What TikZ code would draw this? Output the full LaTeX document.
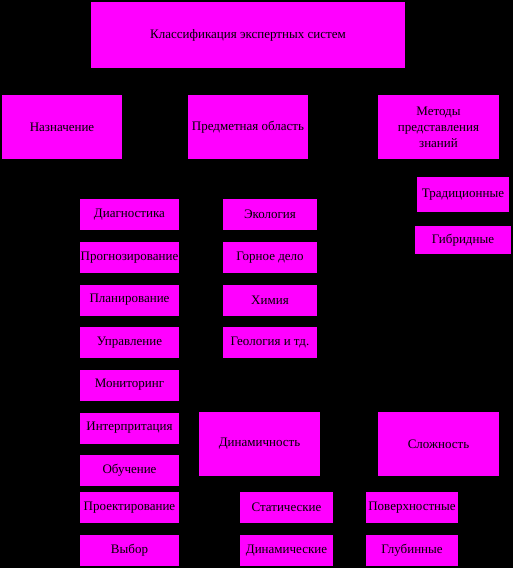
\documentclass[tikz,border=0pt]{standalone}
\usepackage{fontspec}
\setmainfont{Liberation Serif}
\usepackage{xcolor}
\usepackage{tikz}
\definecolor{pinkbox}{HTML}{FF00FF}

\begin{document}
\begin{tikzpicture}[
  x=1pt, y=-1pt,
  font=\fontsize{13}{16}\selectfont,
  box/.style={rectangle, draw=none, fill=pinkbox, text=black,
              inner sep=0pt, text centered, align=center},
  big/.style={box, minimum width=120pt, minimum height=64pt},
  item/.style={box, minimum height=31pt}
]

% ---- background ----
\fill[black] (0,0) rectangle (513,568);

% ---- top level ----
\node[box, minimum width=314pt, minimum height=66pt] (root) at (248,35) {Классификация экспертных систем};
\node[big] (purpose) at (62,127)    {Назначение};
\node[big] (domain)  at (248,127)   {Предметная область};
\node[big, minimum width=121pt] (methods) at (438.5,127) {Методы\\представления\\знаний};

% ---- purpose column ----
\node[item, minimum width=99pt] (diag)   at (129.5,214.5) {Диагностика};
\node[item, minimum width=99pt] (prog)   at (129.5,257.5) {Прогнозирование};
\node[item, minimum width=99pt] (plan)   at (129.5,300)   {Планирование};
\node[item, minimum width=99pt] (ctrl)   at (129.5,342.5) {Управление};
\node[item, minimum width=99pt] (monit)  at (129.5,385)   {Мониторинг};
\node[item, minimum width=99pt] (interp) at (129.5,428)   {Интерпритация};
\node[item, minimum width=99pt] (learn)  at (129.5,470.5) {Обучение};
\node[item, minimum width=99pt] (design) at (129.5,507.5) {Проектирование};
\node[item, minimum width=99pt] (choice) at (129.5,550.5) {Выбор};

% ---- domain column ----
\node[item, minimum width=94pt] (ecol)   at (270,214.5) {Экология};
\node[item, minimum width=94pt] (mining) at (270,257.5) {Горное дело};
\node[item, minimum width=94pt] (chem)   at (270,300)   {Химия};
\node[item, minimum width=94pt] (geol)   at (270,342.5) {Геология и тд.};

% ---- knowledge methods ----
\node[box, minimum width=92pt, minimum height=35pt] (trad)   at (463,194.5) {Традиционные};
\node[box, minimum width=96pt, minimum height=28pt] (hybrid) at (463,240)   {Гибридные};

% ---- dynamics / complexity ----
\node[big, minimum width=121pt] (dynam)   at (259.5,444) {Динамичность};
\node[big, minimum width=121pt] (complex) at (438.5,444) {Сложность};
\node[item, minimum width=93pt] (static)  at (286.5,507.5) {Статические};
\node[item, minimum width=93pt] (dynamic) at (286.5,550.5) {Динамические};
\node[item, minimum width=92pt] (surface) at (412,507.5)   {Поверхностные};
\node[item, minimum width=92pt] (deep)    at (412,550.5)   {Глубинные};

\end{tikzpicture}
\end{document}
